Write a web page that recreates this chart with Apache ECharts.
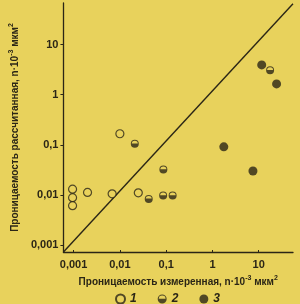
<!DOCTYPE html>
<html>
<head>
<meta charset="utf-8">
<script src="https://cdn.jsdelivr.net/npm/echarts@6/dist/echarts.min.js"></script>
<style>
html,body{margin:0;padding:0;background:#e8d25c;}
#c{width:300px;height:304px;}
</style>
</head>
<body>
<div id="c"></div>
<script>
// Data (permeability, n·10^-3 µm²): [measured, calculated]
const series1 = [[0.00095,0.013],[0.00095,0.0088],[0.00095,0.0061],[0.002,0.0112],[0.0068,0.0105],[0.025,0.011],[0.01,0.166]];
const series2 = [[0.021,0.105],[0.087,0.032],[0.042,0.0083],[0.086,0.0097],[0.138,0.0097],[17.6,3.06]];
const series3 = [[11.6,3.93],[24.3,1.64],[1.76,0.091],[7.5,0.030]];
const seriesNames = ['1','2','3'];
const tickValues = [0.001,0.01,0.1,1,10];
const xExtent = [0.000603, 55];
const yExtent = [0.000724, 67.6];
const diagonal = [[xExtent[0], yExtent[0]], [xExtent[1], yExtent[1]*0.97]];

const ink = '#2b2616';
const bg = '#e8d25c';
const halfPath = 'path://M0 50A50 50 0 0 1 100 50A50 50 0 0 1 0 50Z M12 50A38 38 0 0 0 88 50A38 38 0 0 0 12 50Z M0 46L100 46A50 50 0 0 1 0 46Z';

const fmt = v => String(v).replace('.', ',');
const font = 'Liberation Sans, Arial, sans-serif';

const chart = echarts.init(document.getElementById('c'));
chart.setOption({
  backgroundColor: bg,
  animation: false,
  grid: {left: 46, right: 7, top: 3, bottom: 52, containLabel: false},
  legend: {
    top: 288, left: 110, itemWidth: 9, itemHeight: 9, itemGap: 21,
    data: seriesNames,
    textStyle: {fontStyle: 'italic', fontSize: 12, color: ink, fontFamily: font, fontWeight: 'bold'}
  },
  xAxis: {
    type: 'log', min: xExtent[0], max: xExtent[1],
    axisLine: {lineStyle: {color: ink, width: 1.3}},
    axisTick: {show: true, inside: true, length: 2, customValues: tickValues, lineStyle: {color: ink}},
    axisLabel: {customValues: tickValues, formatter: fmt, color: ink, fontSize: 11, fontWeight: 'bold', fontFamily: font, margin: 7},
    splitLine: {show: false},
    name: 'Проницаемость измеренная, n·10{sup|-3} мкм{sup|2}',
    nameLocation: 'middle', nameGap: 17,
    nameTextStyle: {color: ink, fontSize: 10, fontWeight: 'bold', fontFamily: font,
      rich: {sup: {fontSize: 7, fontWeight: 'bold', color: ink, fontFamily: font, padding: [0,0,7,0]}}}
  },
  yAxis: {
    type: 'log', min: yExtent[0], max: yExtent[1],
    axisLine: {lineStyle: {color: ink, width: 1.3}},
    axisTick: {show: true, length: 3, customValues: tickValues, lineStyle: {color: ink}},
    axisLabel: {customValues: tickValues, formatter: fmt, color: ink, fontSize: 11, fontWeight: 'bold', fontFamily: font, margin: 5},
    splitLine: {show: false},
    name: 'Проницаемость рассчитанная, n·10{sup|-3} мкм{sup|2}',
    nameLocation: 'middle', nameGap: 36,
    nameTextStyle: {color: ink, fontSize: 10, fontWeight: 'bold', fontFamily: font,
      rich: {sup: {fontSize: 7, fontWeight: 'bold', color: ink, fontFamily: font, padding: [0,0,7,0]}}}
  },
  series: [
    {type: 'line', data: diagonal, symbol: 'none', silent: true, lineStyle: {color: ink, width: 1.4}, z: 1},
    {name: seriesNames[0], type: 'scatter', data: series1, symbol: 'circle', symbolSize: 8,
      itemStyle: {color: bg, borderColor: ink, borderWidth: 1.2}},
    {name: seriesNames[1], type: 'scatter', data: series2, symbol: halfPath, symbolSize: 8,
      itemStyle: {color: ink}},
    {name: seriesNames[2], type: 'scatter', data: series3, symbol: 'circle', symbolSize: 9,
      itemStyle: {color: ink}}
  ]
});
</script>
</body>
</html>
